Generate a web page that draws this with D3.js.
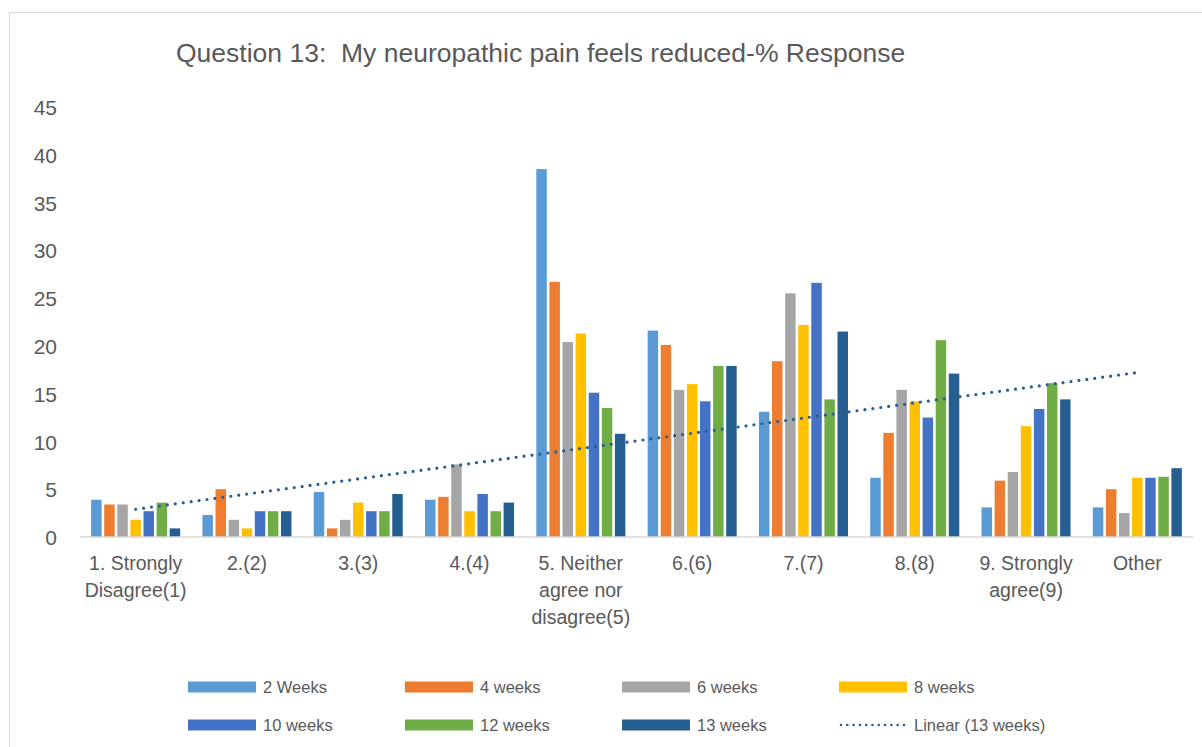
<!DOCTYPE html>
<html>
<head>
<meta charset="utf-8">
<script src="https://cdn.jsdelivr.net/npm/d3@7"></script>
<style>
  body { margin: 0; background: #fff; }
  text { font-family: "Liberation Sans", Arial, sans-serif; fill: #595959; }
</style>
</head>
<body>
<div id="chart"></div>
<script>
// categories (x axis), each one split in lines
var categories = ["1", "2", "3", "4", "5", "6", "7", "8", "9", "Other"];
var catLabels = [["1. Strongly", "Disagree(1)"], ["2.(2)"], ["3.(3)"], ["4.(4)"],
                 ["5. Neither", "agree nor", "disagree(5)"], ["6.(6)"], ["7.(7)"], ["8.(8)"],
                 ["9. Strongly", "agree(9)"], ["Other"]];

// series
var seriesNames = ["2 Weeks", "4 weeks", "6 weeks", "8 weeks", "10 weeks", "12 weeks", "13 weeks"];
var seriesColors = ["#5b9bd5", "#ed7d31", "#a5a5a5", "#ffc000", "#4472c4", "#70ad47", "#255e91"];

var w2  = [3.9, 2.3, 4.7, 3.9, 38.5, 21.6, 13.1, 6.2, 3.1, 3.1];
var w4  = [3.4, 5.0, 0.9, 4.2, 26.7, 20.1, 18.4, 10.9, 5.9, 5.0];
var w6  = [3.4, 1.8, 1.8, 7.6, 20.4, 15.4, 25.5, 15.4, 6.8, 2.5];
var w8  = [1.8, 0.9, 3.6, 2.7, 21.3, 16.0, 22.2, 14.2, 11.6, 6.2];
var w10 = [2.7, 2.7, 2.7, 4.5, 15.1, 14.2, 26.6, 12.5, 13.4, 6.2];
var w12 = [3.6, 2.7, 2.7, 2.7, 13.5, 17.9, 14.4, 20.6, 16.1, 6.3];
var w13 = [0.9, 2.7, 4.5, 3.6, 10.8, 17.9, 21.5, 17.1, 14.4, 7.2];
var seriesValues = [w2, w4, w6, w8, w10, w12, w13];

// y ticks
var yTicks = [0, 5, 10, 15, 20, 25, 30, 35, 40, 45];

var title = "Question 13:  My neuropathic pain feels reduced-% Response";
var trendName = "Linear (13 weeks)";

// svg size and plot area
var width = 1202, height = 747;
var plot = {left: 80, right: 1193, top: 107, bottom: 537};

var svg = d3.select("#chart")
            .append("svg")
            .attr("width", width)
            .attr("height", height);

// chart frame
svg.append("rect")
   .attr("x", 9.5).attr("y", 12.5)
   .attr("width", 1200).attr("height", 740)
   .attr("fill", "none")
   .attr("stroke", "#d9d9d9")
   .attr("stroke-width", 1);

// title
svg.append("text")
   .attr("x", 176)
   .attr("y", 62)
   .style("white-space", "pre")
   .attr("font-size", 26.5)
   .text(title);

// scales
var x0 = d3.scaleBand()
           .domain(categories)
           .range([plot.left, plot.right])
           .paddingInner(0.2)
           .paddingOuter(0.1);
var x1 = d3.scaleBand()
           .domain(d3.range(seriesNames.length))
           .range([0, x0.bandwidth()])
           .paddingInner(0.2);
var y = d3.scaleLinear()
          .domain([0, 45])
          .range([plot.bottom, plot.top]);

// y axis (labels only, no line)
var yAxis = svg.append("g")
   .attr("transform", "translate(57,0)")
   .call(d3.axisLeft(y).tickValues(yTicks).tickSize(0).tickPadding(0));
yAxis.select(".domain").remove();
yAxis.selectAll("text")
     .attr("font-size", 21)
     .attr("font-family", null)
     .attr("fill", null)
     .attr("dy", "0.36em");
yAxis.attr("font-family", null);

// bars
var groups = svg.append("g")
   .selectAll("g")
   .data(seriesValues)
   .join("g")
   .attr("fill", function(d, i) { return seriesColors[i]; });

groups.each(function(vals, si) {
  d3.select(this)
    .selectAll("rect")
    .data(vals)
    .join("rect")
    .attr("x", function(d, ci) { return x0(categories[ci]) + x1(si); })
    .attr("y", function(d) { return y(d); })
    .attr("width", x1.bandwidth())
    .attr("height", function(d) { return y(0) - y(d); });
});

// baseline
svg.append("line")
   .attr("x1", plot.left).attr("x2", plot.right)
   .attr("y1", y(0)).attr("y2", y(0))
   .attr("stroke", "#d9d9d9")
   .attr("stroke-width", 1.5);

// x labels
var xl = svg.append("g")
   .selectAll("text")
   .data(categories)
   .join("text")
   .attr("text-anchor", "middle")
   .attr("font-size", 19.5)
   .attr("x", function(d) { return x0(d) + x0.bandwidth() / 2; })
   .attr("y", 570);
xl.each(function(d, i) {
  d3.select(this)
    .selectAll("tspan")
    .data(catLabels[i])
    .join("tspan")
    .attr("x", x0(d) + x0.bandwidth() / 2)
    .attr("dy", function(t, j) { return j == 0 ? 0 : 27; })
    .text(function(t) { return t; });
});

// linear trendline of 13 weeks (least squares over category index)
var xs = d3.range(1, w13.length + 1);
var mx = d3.mean(xs), my = d3.mean(w13);
var slope = d3.sum(xs, function(v, i) { return (v - mx) * (w13[i] - my); }) /
            d3.sum(xs, function(v) { return (v - mx) * (v - mx); });
var icpt = my - slope * mx;
var trend = [
  {c: categories[0], v: icpt + slope * 1},
  {c: categories[categories.length - 1], v: icpt + slope * w13.length}
];
svg.append("path")
   .datum(trend)
   .attr("d", d3.line()
                .x(function(d) { return x0(d.c) + x0.bandwidth() / 2; })
                .y(function(d) { return y(d.v); }))
   .attr("fill", "none")
   .attr("stroke", "#255e91")
   .attr("stroke-width", 3.2)
   .attr("stroke-linecap", "round")
   .attr("stroke-dasharray", "0,8");

// legend
var legItems = seriesNames.map(function(n, i) { return {name: n, color: seriesColors[i], trend: false}; });
legItems.push({name: trendName, color: "#255e91", trend: true});

var leg = svg.append("g")
   .selectAll("g")
   .data(legItems)
   .join("g")
   .attr("transform", function(d, i) {
     return "translate(" + (188 + (i % 4) * 217) + "," + (687 + Math.floor(i / 4) * 38) + ")";
   });
leg.filter(function(d) { return !d.trend; })
   .append("rect")
   .attr("x", 0).attr("y", -5.5)
   .attr("width", 68).attr("height", 11)
   .attr("fill", function(d) { return d.color; });
leg.filter(function(d) { return d.trend; })
   .append("line")
   .attr("x1", 2).attr("x2", 66)
   .attr("y1", 0).attr("y2", 0)
   .attr("stroke", function(d) { return d.color; })
   .attr("stroke-width", 2.6)
   .attr("stroke-linecap", "round")
   .attr("stroke-dasharray", "0,6.3");
leg.append("text")
   .attr("x", 75)
   .attr("y", 0)
   .attr("dy", "0.36em")
   .attr("font-size", 16.5)
   .text(function(d) { return d.name; });
</script>
</body>
</html>
